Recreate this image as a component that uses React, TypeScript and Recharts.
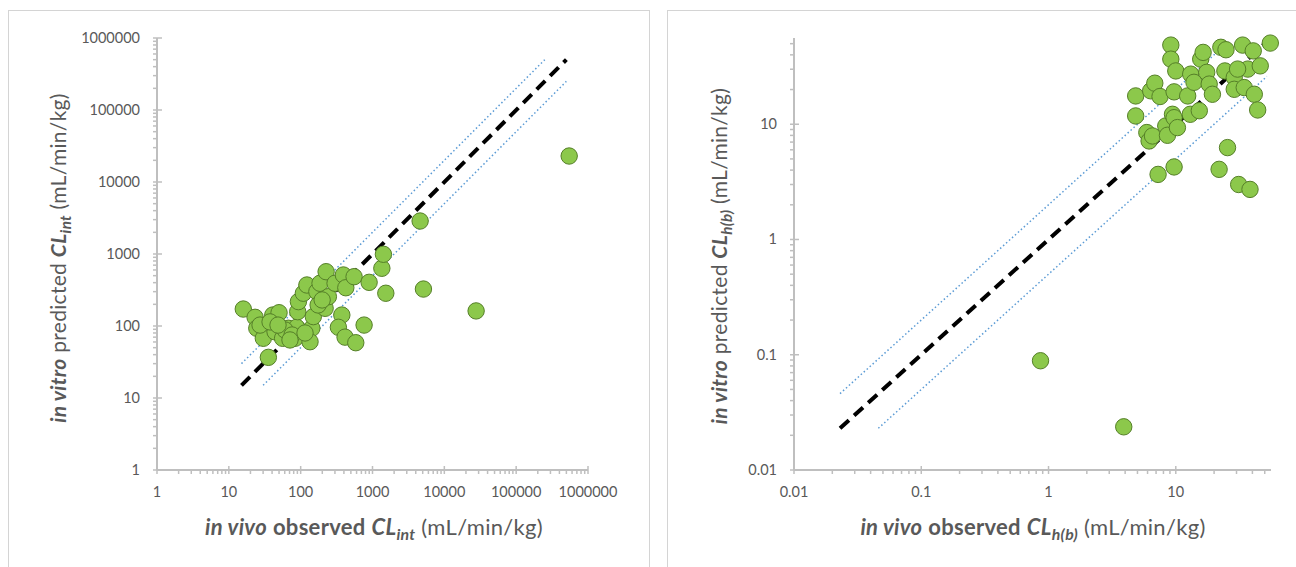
import React from 'react';
import { ScatterChart, Scatter, XAxis, YAxis } from 'recharts';

// left panel: CLint, observed (x) vs predicted (y)
const clintObserved = [
  15.9, 23.2, 24.5, 30.2, 35.5, 40.9, 50, 44, 56, 67.4, 83.6, 88, 91, 93, 109, 122,
  143, 135, 150, 168, 186, 226, 219, 243, 301, 374, 335, 393, 425, 415, 554, 585,
  764, 897, 1349, 1419, 1532, 5117, 4603, 27700, 547000, 27.2, 60.6, 75.9, 175, 199,
  37.5, 115, 71, 48.4,
];
const clintPredicted = [
  172, 132, 93, 67.5, 36.7, 142, 153, 83, 67.5, 93, 67.5, 96, 158, 218, 285, 371,
  93, 60.5, 135, 300, 392, 568, 176, 255, 392, 142, 96, 511, 340, 70, 484, 58.6,
  103, 404, 633, 991, 285, 326, 2872, 162, 22960, 103, 88, 75, 196, 230,
  114, 80, 64, 103,
];

// right panel: CLh(b)
const clhObserved = [
  9.14, 9.14, 10.0, 4.84, 6.35, 6.84, 7.52, 9.7, 4.84, 5.92, 6.17, 6.56, 8.34, 8.6,
  9.42, 9.7, 10.3, 13.1, 13.0, 15.3, 12.4, 13.9, 15.7, 16.4, 17.5, 18.3, 19.4, 22.6,
  24.8, 24.3, 28.8, 28.8, 33.5, 34.5, 36.8, 40.6, 41.4, 46.1, 44, 55.3, 25.5, 21.9,
  31.2, 38.3, 9.7, 7.26, 30.6, 0.865, 3.9,
];
const clhPredicted = [
  48.6, 36.7, 29.0, 17.6, 19.5, 22.7, 17.4, 19.1, 11.8, 8.47, 7.16, 7.91, 9.66, 8.02,
  12.2, 11.4, 9.35, 27.2, 12.2, 13.1, 17.6, 23.1, 36.7, 42, 28.2, 22.3, 18.2, 46.5,
  44.3, 29.0, 25.5, 20.1, 48.6, 20.8, 30.1, 43.3, 18.2, 32.1, 13.3, 50.6, 6.27, 4.06,
  3.0, 2.72, 4.26, 3.67, 30.1, 0.0887, 0.0237,
];

// line of unity and 2-fold lines (endpoints)
const clintUnityX = [15, 500000];
const clintUnityY = [15, 500000];
const clintUpperX = [15, 250000];
const clintUpperY = [30, 500000];
const clintLowerX = [30, 500000];
const clintLowerY = [15, 250000];

const clhUnityX = [0.023, 52];
const clhUnityY = [0.023, 52];
const clhUpperX = [0.023, 26];
const clhUpperY = [0.046, 52];
const clhLowerX = [0.046, 52];
const clhLowerY = [0.023, 26];

const clintMajorTicks = [1, 10, 100, 1000, 10000, 100000, 1000000];
const clintTickLabels = ['1', '10', '100', '1000', '10000', '100000', '1000000'];
const clhMajorTicks = [0.01, 0.1, 1, 10];
const clhTickLabels = ['0.01', '0.1', '1', '10'];

const FONT = 'Lato, "Open Sans", sans-serif';
const AXIS = '#BFBFBF';
const TEXT = '#595959';

const toPoints = (xs: number[], ys: number[]) => xs.map((x, i) => ({ x, y: ys[i] }));

// log axis gets minor ticks at 2..9 of each decade, like Excel
const withMinor = (majors: number[], max: number) => {
  const out: number[] = [];
  majors.forEach(m => {
    for (let k = 1; k <= 9; k++) {
      if (m * k <= max) out.push(m * k);
    }
  });
  return out;
};

const Dot = (props: any) => (
  <circle cx={props.cx} cy={props.cy} r={8.2} fill="#8CC84B" stroke="#557F28" strokeWidth={1} />
);
const NoDot = () => <g />;

const XTick = (props: any) => {
  const { x, y, payload, majors, labels } = props;
  const idx = majors.indexOf(payload.value);
  const major = idx >= 0;
  return (
    <g>
      <line x1={x} x2={x} y1={major ? y - 4 : y} y2={y + 4} stroke={AXIS} strokeWidth={1.5} />
      {major && (
        <text x={x} y={y + 27} textAnchor="middle" fill={TEXT} fontSize={14.5} fontFamily={FONT}>
          {labels[idx]}
        </text>
      )}
    </g>
  );
};

const YTick = (props: any) => {
  const { x, y, payload, majors, labels } = props;
  const idx = majors.indexOf(payload.value);
  const major = idx >= 0;
  return (
    <g>
      <line x1={major ? x + 5 : x} x2={x - 4} y1={y} y2={y} stroke={AXIS} strokeWidth={1.5} />
      {major && (
        <text x={x - 17} y={y + 5} textAnchor="end" fill={TEXT} fontSize={14.5} fontFamily={FONT}>
          {labels[idx]}
        </text>
      )}
    </g>
  );
};

interface PanelProps {
  left: number;
  width: number;
  margin: { top: number; right: number; bottom: number; left: number };
  domain: [number, number];
  majors: number[];
  labels: string[];
  points: { x: number; y: number }[];
  unity: { x: number; y: number }[];
  upper: { x: number; y: number }[];
  lower: { x: number; y: number }[];
}

const Panel = ({ left, width, margin, domain, majors, labels, points, unity, upper, lower }: PanelProps) => {
  const ticks = withMinor(majors, domain[1]);
  const dotted = { stroke: '#5B9BD5', strokeWidth: 1.5, strokeDasharray: '1.5 2.5' };
  return (
    <div style={{ position: 'absolute', left, top: 0 }}>
      <ScatterChart width={width} height={567} margin={margin}>
        <XAxis
          type="number"
          dataKey="x"
          scale="log"
          domain={domain}
          ticks={ticks}
          interval={0}
          tickSize={0}
          tickMargin={0}
          tickLine={false}
          height={30}
          axisLine={{ stroke: AXIS, strokeWidth: 2 }}
          tick={(p: any) => <XTick {...p} majors={majors} labels={labels} />}
        />
        <YAxis
          type="number"
          dataKey="y"
          scale="log"
          domain={domain}
          ticks={ticks}
          interval={0}
          tickSize={0}
          tickMargin={0}
          tickLine={false}
          width={60}
          axisLine={{ stroke: AXIS, strokeWidth: 2 }}
          tick={(p: any) => <YTick {...p} majors={majors} labels={labels} />}
        />
        <Scatter data={upper} line={dotted} shape={NoDot} isAnimationActive={false} />
        <Scatter data={lower} line={dotted} shape={NoDot} isAnimationActive={false} />
        <Scatter
          data={unity}
          line={{ stroke: '#000000', strokeWidth: 4, strokeDasharray: '12 7' }}
          shape={NoDot}
          isAnimationActive={false}
        />
        <Scatter data={points} shape={Dot} isAnimationActive={false} />
      </ScatterChart>
    </div>
  );
};

const bi: React.CSSProperties = { fontWeight: 700, fontStyle: 'italic' };
const sub: React.CSSProperties = { fontWeight: 700, fontStyle: 'italic', fontSize: '0.72em', position: 'relative', top: '0.32em' };

const Title = ({ cx, cy, rotate, children }: { cx: number; cy: number; rotate?: boolean; children: React.ReactNode }) => (
  <div
    style={{
      position: 'absolute',
      left: cx - 250,
      top: cy - 15,
      width: 500,
      height: 30,
      lineHeight: '30px',
      textAlign: 'center',
      whiteSpace: 'nowrap',
      fontFamily: FONT,
      fontSize: rotate ? 21 : 22,
      letterSpacing: 0.3,
      color: TEXT,
      transform: rotate ? 'rotate(-90deg)' : undefined,
    }}
  >
    {children}
  </div>
);

export default function App() {
  return (
    <div
      style={{
        position: 'absolute',
        left: 0,
        top: 0,
        width: 1296,
        height: 567,
        overflow: 'hidden',
        background: '#ffffff',
      }}
    >
      <div style={{ position: 'absolute', left: 8, top: 10, width: 640, height: 620, border: '1.5px solid #D4D4D4' }} />
      <div style={{ position: 'absolute', left: 667, top: 10, width: 700, height: 620, border: '1.5px solid #D4D4D4' }} />

      <Panel
        left={0}
        width={650}
        margin={{ top: 38, right: 62, bottom: 67, left: 97 }}
        domain={[1, 1000000]}
        majors={clintMajorTicks}
        labels={clintTickLabels}
        points={toPoints(clintObserved, clintPredicted)}
        unity={toPoints(clintUnityX, clintUnityY)}
        upper={toPoints(clintUpperX, clintUpperY)}
        lower={toPoints(clintLowerX, clintLowerY)}
      />
      <Panel
        left={650}
        width={646}
        margin={{ top: 38, right: 25, bottom: 67, left: 84 }}
        domain={[0.01, 56]}
        majors={clhMajorTicks}
        labels={clhTickLabels}
        points={toPoints(clhObserved, clhPredicted)}
        unity={toPoints(clhUnityX, clhUnityY)}
        upper={toPoints(clhUpperX, clhUpperY)}
        lower={toPoints(clhLowerX, clhLowerY)}
      />

      <Title cx={374} cy={527}>
        <span style={bi}>in vivo</span> <b>observed</b> <span style={bi}>CL</span>
        <span style={sub}>int</span> (mL/min/kg)
      </Title>
      <Title cx={58} cy={258} rotate>
        <span style={bi}>in vitro</span> predicted <span style={bi}>CL</span>
        <span style={sub}>int</span> (mL/min/kg)
      </Title>
      <Title cx={1033} cy={527}>
        <span style={bi}>in vivo</span> <b>observed</b> <span style={bi}>CL</span>
        <span style={sub}>h(b)</span> (mL/min/kg)
      </Title>
      <Title cx={719} cy={256} rotate>
        <span style={bi}>in vitro</span> predicted <span style={bi}>CL</span>
        <span style={sub}>h(b)</span> (mL/min/kg)
      </Title>
    </div>
  );
}
